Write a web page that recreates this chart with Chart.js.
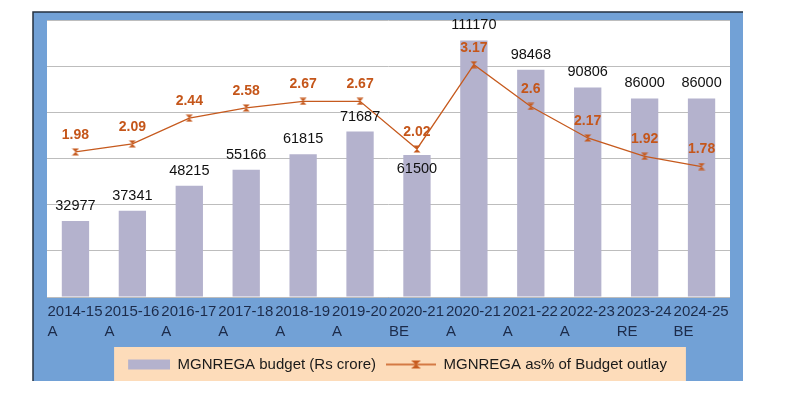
<!DOCTYPE html>
<html>
<head>
<meta charset="utf-8">
<script src="https://cdn.jsdelivr.net/npm/chart.js@4.4.0/dist/chart.umd.min.js"></script>
<style>
  html, body { margin: 0; padding: 0; background: #fff; }
  #wrap { width: 800px; height: 393px; }
</style>
</head>
<body>
<div id="wrap"><canvas id="mgnrega"></canvas></div>
<script>
// data
const years = [
  ['2014-15', 'A'], ['2015-16', 'A'], ['2016-17', 'A'], ['2017-18', 'A'],
  ['2018-19', 'A'], ['2019-20', 'A'], ['2020-21', 'BE'], ['2020-21', 'A'],
  ['2021-22', 'A'], ['2022-23', 'A'], ['2023-24', 'RE'], ['2024-25', 'BE']
];
const budget = [32977, 37341, 48215, 55166, 61815, 71687, 61500, 111170, 98468, 90806, 86000, 86000];
const share = [1.98, 2.09, 2.44, 2.58, 2.67, 2.67, 2.02, 3.17, 2.6, 2.17, 1.92, 1.78];
const labelInside = [6]; // 61500 label sits just under the bar top

const font = '"Liberation Sans", Arial, sans-serif';
const barColor = '#b4b2cd';
const lineColor = '#c65a1e';

function makeCanvas(w, h, draw) {
  const c = document.createElement('canvas');
  c.width = w; c.height = h;
  draw(c.getContext('2d'));
  return c;
}

function hourglass(g, cx, cy, w, h) {
  g.fillStyle = lineColor;
  g.beginPath();
  g.moveTo(cx - w / 2, cy - h / 2); g.lineTo(cx + w / 2, cy - h / 2); g.lineTo(cx, cy);
  g.closePath(); g.fill();
  g.beginPath();
  g.moveTo(cx - w / 2, cy + h / 2); g.lineTo(cx + w / 2, cy + h / 2); g.lineTo(cx, cy);
  g.closePath(); g.fill();
}

const marker = makeCanvas(8, 8, g => hourglass(g, 4, 4, 7, 7));
const barSwatch = makeCanvas(50, 14, g => { g.fillStyle = barColor; g.fillRect(8, 2, 42, 10); });
const lineSwatch = makeCanvas(50, 14, g => {
  g.strokeStyle = lineColor; g.lineWidth = 1.3;
  g.beginPath(); g.moveTo(0, 7); g.lineTo(50, 7); g.stroke();
  hourglass(g, 30, 7, 10, 8);
});

const frame = {
  id: 'frame',
  afterLayout(chart) {
    // legend sits a little right of centre in the original
    chart.legend.left += 5;
    chart.legend.right += 5;
  },
  beforeDraw(chart) {
    const { ctx, chartArea: a } = chart;
    const x0 = a.left - 14, y0 = a.top - 8, x1 = a.right + 13, y1 = chart.height - 12;
    ctx.save();
    ctx.fillStyle = '#72a1d6';
    ctx.fillRect(x0, y0, x1 - x0, y1 - y0);
    ctx.fillStyle = '#fff';
    ctx.fillRect(a.left, a.top, a.right - a.left, a.bottom - a.top);
    ctx.strokeStyle = '#24313f';
    ctx.lineWidth = 1.5;
    ctx.beginPath();
    ctx.moveTo(x0, y1); ctx.lineTo(x0, y0); ctx.lineTo(x1, y0);
    ctx.stroke();
    const boxes = chart.legend && chart.legend.legendHitBoxes;
    if (boxes && boxes.length) {
      const l = Math.min(...boxes.map(b => b.left)) - 6;
      const r = Math.max(...boxes.map(b => b.left + b.width)) + 19;
      ctx.fillStyle = '#fddcba';
      ctx.fillRect(l, chart.legend.top, r - l, y1 - chart.legend.top);
    }
    ctx.restore();
  }
};

const valueLabels = {
  id: 'valueLabels',
  afterDatasetsDraw(chart) {
    const ctx = chart.ctx;
    ctx.save();
    ctx.textAlign = 'center';
    ctx.textBaseline = 'middle';
    ctx.font = '14.5px ' + font;
    ctx.fillStyle = '#111';
    chart.getDatasetMeta(0).data.forEach((bar, i) => {
      const y = labelInside.includes(i) ? bar.y + 14 : bar.y - 15;
      ctx.fillText(String(budget[i]), bar.x, y);
    });
    ctx.font = 'bold 14px ' + font;
    ctx.fillStyle = '#c5561a';
    chart.getDatasetMeta(1).data.forEach((pt, i) => {
      ctx.fillText(String(share[i]), pt.x, pt.y - 17);
    });
    ctx.restore();
  }
};

new Chart(document.getElementById('mgnrega'), {
  type: 'bar',
  data: {
    labels: years,
    datasets: [
      {
        label: 'MGNREGA budget (Rs crore)',
        data: budget,
        backgroundColor: barColor,
        barPercentage: 0.48,
        categoryPercentage: 1,
        yAxisID: 'y',
        order: 1
      },
      {
        type: 'line',
        label: 'MGNREGA as% of Budget outlay',
        data: share,
        borderColor: lineColor,
        borderWidth: 1.3,
        pointStyle: marker,
        pointRadius: 4,
        tension: 0,
        yAxisID: 'y1',
        order: 0
      }
    ]
  },
  options: {
    responsive: true,
    maintainAspectRatio: false,
    animation: false,
    layout: { padding: { left: 47, right: 70, top: 20, bottom: 11 } },
    scales: {
      x: {
        grid: { display: false },
        border: { display: false },
        ticks: {
          color: '#1c2b4a',
          font: { size: 15, family: font, lineHeight: '20px' },
          align: 'start',
          labelOffset: -28,
          padding: -3,
          maxRotation: 0,
          autoSkip: false
        },
        afterFit: s => { s.height = 50; }
      },
      y: {
        min: 0,
        max: 120000,
        ticks: { display: false, stepSize: 20000 },
        grid: { color: '#bdbdbd', drawTicks: false },
        border: { display: false },
        afterFit: s => { s.width = 0; }
      },
      y1: { display: false, position: 'right', min: 0, max: 3.78 }
    },
    plugins: {
      tooltip: { enabled: false },
      legend: {
        position: 'bottom',
        labels: {
          usePointStyle: true,
          pointStyleWidth: 50,
          padding: 10,
          color: '#1a1a1a',
          font: { size: 15, family: font },
          generateLabels: chart => chart.data.datasets.map((ds, i) => ({
            text: ds.label,
            pointStyle: i === 0 ? barSwatch : lineSwatch,
            fillStyle: 'transparent',
            strokeStyle: 'transparent',
            lineWidth: 0,
            hidden: false,
            datasetIndex: i,
            fontColor: '#1a1a1a'
          }))
        }
      }
    }
  },
  plugins: [frame, valueLabels]
});
</script>
</body>
</html>
